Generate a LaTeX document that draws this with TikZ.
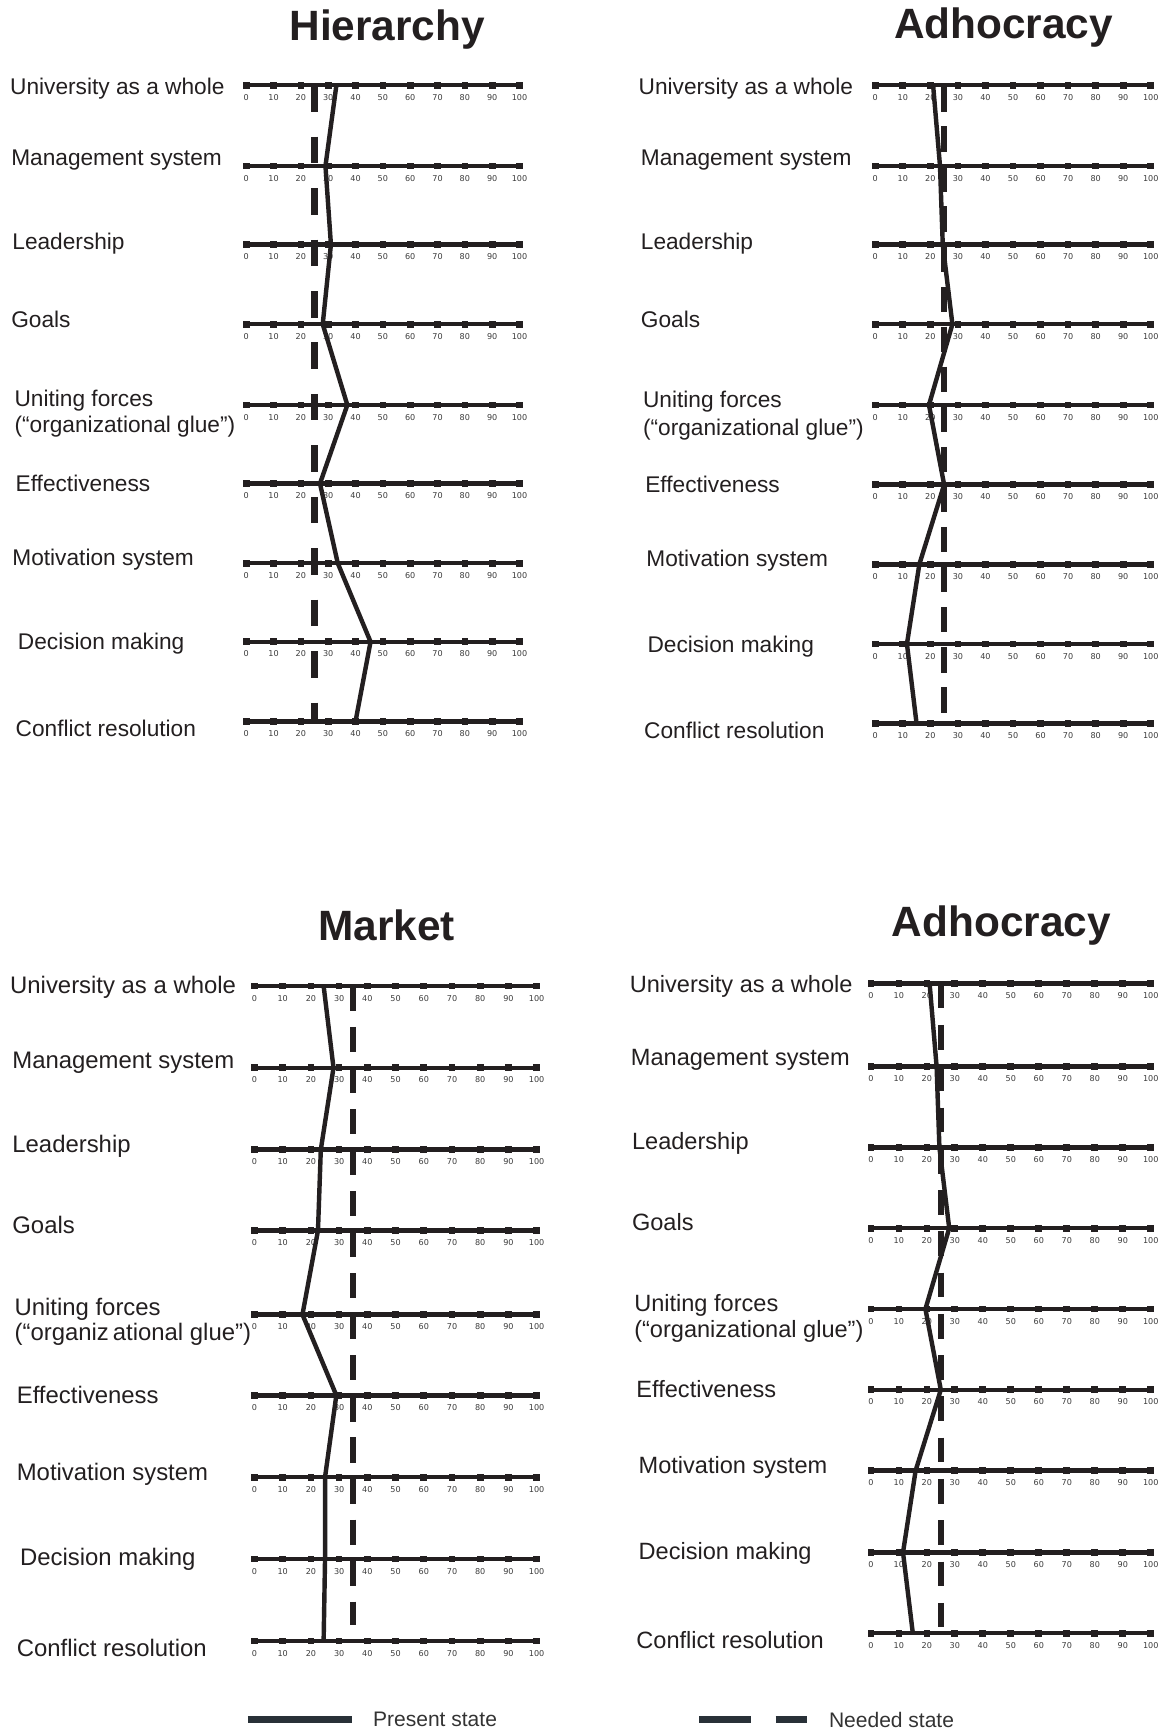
\documentclass[tikz,border=0pt]{standalone}
\usepackage{fontspec}
\setmainfont{Liberation Sans}
\newfontfamily\tickfont{DejaVu Sans}
\usetikzlibrary{positioning}
\definecolor{inkBlack}{RGB}{35,31,32}
\definecolor{tickGray}{RGB}{60,60,60}
\definecolor{legendInk}{RGB}{41,49,56}
\definecolor{legendText}{RGB}{51,51,51}

\begin{document}
\begin{tikzpicture}[
	x=1pt, y=-1pt,
	axis/.style={draw=inkBlack, line width=4pt},
	tickmark/.style={fill=inkBlack, minimum size=6pt, inner sep=0pt, outer sep=0pt},
	ticklabel/.style={font=\tickfont\fontsize{7.3}{8}\selectfont, text=tickGray, inner sep=0pt},
	rowlabel/.style={anchor=west, align=left, inner sep=0pt, text=inkBlack, yshift=-2pt},
	paneltitle/.style={anchor=base, inner sep=0pt, text=inkBlack,
		font=\bfseries\fontsize{38.3}{40}\selectfont},
	present/.style={draw=inkBlack, line width=4pt, line join=miter},
	needed/.style={draw=inkBlack, line width=5.5pt},
	legendline/.style={draw=legendInk, line width=5.5pt},
	legendtext/.style={anchor=west, inner sep=0pt, text=legendText,
		font=\fontsize{19}{22}\selectfont},
	]
	\useasboundingbox (0,0) rectangle (1054,1568);
	
	% Hierarchy
	\node[paneltitle] (hier-title) at (350,37) {Hierarchy};
	\foreach \i/\y/\v/\lx/\ly/\txt in {
		1/77/33/9/78/{University as a whole},
		2/150/29/10/143/{Management system},
		3/221/31/11/218/{Leadership},
		4/293/28/10/287/{Goals},
		5/366/37/13/372/{Uniting forces\\(“organizational glue”)},
		6/437/27/14/435/{Effectiveness},
		7/509/33.5/11/504/{Motivation system},
		8/580/45.5/16/580/{Decision making},
		9/652/40/14/656/{Conflict resolution}}{
		\draw[axis] (222.5,\y) -- (469.5,\y);
		\foreach \t in {0,10,...,100}{
			\node[tickmark] (hier-\i-\t) at (222.5+\t*2.47,\y) {};
			\node[ticklabel] (hier-\i-\t-lab) at (222.5+\t*2.47,\y+11) {\t};
		}
		\coordinate (hier-\i) at (222.5+\v*2.47,\y);
		\node[rowlabel, font=\fontsize{20.5}{23}\selectfont] (hier-lab-\i) at (\lx,\ly) {\txt};
	}
	\draw[present] (hier-1) -- (hier-2) -- (hier-3) -- (hier-4) -- (hier-5)
		-- (hier-6) -- (hier-7) -- (hier-8) -- (hier-9);
	\coordinate (hier-need-a) at (284.25,77);
	\coordinate (hier-need-b) at (284.25,652);
	\draw[needed, dash pattern=on 24pt off 22.5pt] (hier-need-a) -- (hier-need-b);
	
	% Adhocracy (top)
	\node[paneltitle] (adho-title) at (907,35) {Adhocracy};
	\foreach \i/\y/\v/\lx/\ly/\txt in {
		1/77/21/577/78/{University as a whole},
		2/150/23.5/579/143/{Management system},
		3/221/24.5/579/218/{Leadership},
		4/293/28/579/287/{Goals},
		5/366/19.5/581/373.5/{Uniting forces\\(“organizational glue”)},
		6/438/25/583/436/{Effectiveness},
		7/510/16/584/505/{Motivation system},
		8/582/11.5/585/582/{Decision making},
		9/654/15/582/658/{Conflict resolution}}{
		\draw[axis] (791,\y) -- (1040,\y);
		\foreach \t in {0,10,...,100}{
			\node[tickmark] (adho-\i-\t) at (791+\t*2.49,\y) {};
			\node[ticklabel] (adho-\i-\t-lab) at (791+\t*2.49,\y+11) {\t};
		}
		\coordinate (adho-\i) at (791+\v*2.49,\y);
		\node[rowlabel, font=\fontsize{20.5}{25}\selectfont] (adho-lab-\i) at (\lx,\ly) {\txt};
	}
	\draw[present] (adho-1) -- (adho-2) -- (adho-3) -- (adho-4) -- (adho-5)
		-- (adho-6) -- (adho-7) -- (adho-8) -- (adho-9);
	\coordinate (adho-need-a) at (853.25,78);
	\coordinate (adho-need-b) at (853.25,645);
	\draw[needed, dash pattern=on 23pt off 13.2pt] (adho-need-a) -- (adho-need-b);
	
	% Market
	\node[paneltitle] (mark-title) at (349.5,850) {Market};
	\foreach \i/\y/\v/\lx/\ly/\txt in {
		1/891/24.5/9/890/{University as a whole},
		2/965/28/11/958/{Management system},
		3/1039/23.5/11/1034/{Leadership},
		4/1112/22.5/11/1105/{Goals},
		5/1188/17/13/1192.5/{Uniting forces\\(“organiz\,ational glue”)},
		6/1261/29/15/1259/{Effectiveness},
		7/1335/25/15/1330/{Motivation system},
		8/1409/25/18/1407/{Decision making},
		9/1483/24.5/15/1487/{Conflict resolution}}{
		\draw[axis] (230,\y) -- (485,\y);
		\foreach \t in {0,10,...,100}{
			\node[tickmark] (mark-\i-\t) at (230+\t*2.55,\y) {};
			\node[ticklabel] (mark-\i-\t-lab) at (230+\t*2.55,\y+11) {\t};
		}
		\coordinate (mark-\i) at (230+\v*2.55,\y);
		\node[rowlabel, font=\fontsize{21.6}{23}\selectfont] (mark-lab-\i) at (\lx,\ly) {\txt};
	}
	\draw[present] (mark-1) -- (mark-2) -- (mark-3) -- (mark-4) -- (mark-5)
		-- (mark-6) -- (mark-7) -- (mark-8) -- (mark-9);
	\coordinate (mark-need-a) at (319.25,891);
	\coordinate (mark-need-b) at (319.25,1469);
	\draw[needed, dash pattern=on 22.7pt off 14.4pt] (mark-need-a) -- (mark-need-b);
	
	% Adhocracy (bottom)
	\node[paneltitle] (adhb-title) at (905,846) {Adhocracy};
	\foreach \i/\y/\v/\lx/\ly/\txt in {
		1/889/21/569/889/{University as a whole},
		2/964/23.5/570/956/{Management system},
		3/1037/24.5/571/1031/{Leadership},
		4/1110/28/571/1102/{Goals},
		5/1183/19.5/573/1189.5/{Uniting forces\\(“organizational glue”)},
		6/1256/25/575/1253/{Effectiveness},
		7/1329/16/577/1324/{Motivation system},
		8/1403/11.5/577/1402/{Decision making},
		9/1476/15/575/1480/{Conflict resolution}}{
		\draw[axis] (787,\y) -- (1040,\y);
		\foreach \t in {0,10,...,100}{
			\node[tickmark] (adhb-\i-\t) at (787+\t*2.53,\y) {};
			\node[ticklabel] (adhb-\i-\t-lab) at (787+\t*2.53,\y+11) {\t};
		}
		\coordinate (adhb-\i) at (787+\v*2.53,\y);
		\node[rowlabel, font=\fontsize{21.3}{23}\selectfont] (adhb-lab-\i) at (\lx,\ly) {\txt};
	}
	\draw[present] (adhb-1) -- (adhb-2) -- (adhb-3) -- (adhb-4) -- (adhb-5)
		-- (adhb-6) -- (adhb-7) -- (adhb-8) -- (adhb-9);
	\coordinate (adhb-need-a) at (850.25,889);
	\coordinate (adhb-need-b) at (850.25,1470);
	\draw[needed, dash pattern=on 22.4pt off 14.9pt] (adhb-need-a) -- (adhb-need-b);
	
	% legend
	\coordinate (pres-a) at (224,1554);
	\coordinate (pres-b) at (318,1554);
	\draw[legendline] (pres-a) -- (pres-b);
	\node[legendtext, right=19pt of pres-b] (pres-text) {Present state};
	\coordinate (need-a) at (632,1554);
	\coordinate (need-b) at (729,1554);
	\draw[legendline, dash pattern=on 47pt off 22pt] (need-a) -- (need-b);
	\node[legendtext, right=20pt of need-b] (need-text) {Needed state};
\end{tikzpicture}
\end{document}
